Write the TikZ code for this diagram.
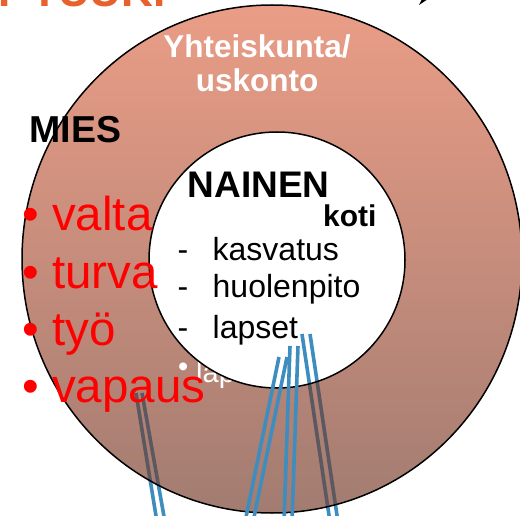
\documentclass[tikz,border=0pt]{standalone}
\usepackage{fontspec}
\setmainfont{Liberation Sans}
\definecolor{ringtop}{HTML}{EA9D86}
\definecolor{ringbot}{HTML}{A27C71}
\definecolor{lineblue}{HTML}{3E8DBF}
\definecolor{linegray}{HTML}{5C5860}
\definecolor{titleorange}{HTML}{E8612C}
\definecolor{bulletred}{HTML}{FF0000}
\begin{document}
\begin{tikzpicture}[x=1pt,y=-1pt,
  txt/.style={inner sep=0pt, anchor=base west},
  bluestroke/.style={draw=lineblue, line width=3.6pt},
  graystroke/.style={draw=linegray, line width=3.6pt},
  rim/.style={draw=black, line width=1.5pt}]
\useasboundingbox (0,0) rectangle (520,516);

% line end points
\coordinate (L1t) at (136,393); \coordinate (L1b) at (157,522);
\coordinate (L2t) at (142,393); \coordinate (L2b) at (165,522);
\coordinate (R1t) at (302,334); \coordinate (R1b) at (330,522);
\coordinate (R2t) at (310,334); \coordinate (R2b) at (338,522);
\coordinate (M1t) at (279,357); \coordinate (M1b) at (245,522);
\coordinate (M2t) at (287,357); \coordinate (M2b) at (253,522);
\coordinate (M3t) at (290,346); \coordinate (M3b) at (284,522);
\coordinate (M4t) at (298,346); \coordinate (M4b) at (292,522);

% title fragment (cut at top)
\node[txt, text=titleorange, font=\bfseries\fontsize{44}{48}\selectfont] (title) at (-2,7) {I\kern20.8pt TUUKI};
\fill (419,5) -- (428,-1) -- (422,-1) -- cycle;

% lines behind the ring
\draw[bluestroke] (L1t) -- (L1b) (L2t) -- (L2b) (R1t) -- (R1b) (R2t) -- (R2b);

% outer ring
\shade[top color=ringtop, bottom color=ringbot] (272,259) ellipse [x radius=250pt, y radius=254pt];
\begin{scope}
  \clip (272,259) ellipse [x radius=250pt, y radius=254pt];
  \draw[graystroke] (L1t) -- (L1b) (L2t) -- (L2b) (R1t) -- (R1b) (R2t) -- (R2b);
\end{scope}

% white text under the inner circle
\node[txt, text=white, font=\fontsize{29}{32}\selectfont] (hidden) at (178,382) {\makebox[18pt][l]{\raisebox{6pt}{•}}lapset};

% inner circle
\fill[white] (277,260) circle [radius=128pt];
\begin{scope}
  \clip (277,260) circle [radius=128pt];
  \draw[bluestroke] (R1t) -- (R1b) (R2t) -- (R2b);
\end{scope}
\draw[rim] (277,260) circle [radius=128pt];
\draw[rim] (272,259) ellipse [x radius=250pt, y radius=254pt];

% lines on top
\draw[bluestroke] (M1t) -- (M1b) (M2t) -- (M2b) (M3t) -- (M3b) (M4t) -- (M4b);

% texts
\node[inner sep=0pt, anchor=base, text=white, font=\bfseries\fontsize{31.5}{34}\selectfont] (yh) at (257,58) {Yhteiskunta/};
\node[inner sep=0pt, anchor=base, text=white, font=\bfseries\fontsize{31.5}{34}\selectfont] (us) at (257,92) {uskonto};
\node[txt, font=\bfseries\fontsize{37.5}{40}\selectfont] (mies) at (29.5,143) {MIES};

\node[txt, text=bulletred, font=\fontsize{47.5}{50}\selectfont] (valta) at (22,230) {\makebox[30pt][l]{•}valta};
\node[txt, text=bulletred, font=\fontsize{47.5}{50}\selectfont] (turva) at (22,288) {\makebox[30pt][l]{•}turva};
\node[txt, text=bulletred, font=\fontsize{47.5}{50}\selectfont] (tyo) at (22,345) {\makebox[30pt][l]{•}työ};
\node[txt, text=bulletred, font=\fontsize{47.5}{50}\selectfont] (vapaus) at (22,402) {\makebox[30pt][l]{•}vapaus};

\node[txt, font=\bfseries\fontsize{37}{40}\selectfont] (nainen) at (187.5,198) {NAINEN};
\node[txt, font=\bfseries\fontsize{30}{34}\selectfont] (koti) at (323,227) {koti};
\node[txt, font=\fontsize{32}{36}\selectfont] (d1) at (177.5,261) {-};
\node[txt, font=\fontsize{32}{36}\selectfont] (kasv) at (212.5,261) {kasvatus};
\node[txt, font=\fontsize{32}{36}\selectfont] (d2) at (177.5,298) {-};
\node[txt, font=\fontsize{32}{36}\selectfont] (huol) at (212.5,298) {huolenpito};
\node[txt, font=\fontsize{32}{36}\selectfont] (d3) at (177.5,338) {-};
\node[txt, font=\fontsize{32}{36}\selectfont] (lap) at (212.5,338) {lapset};
\end{tikzpicture}
\end{document}
